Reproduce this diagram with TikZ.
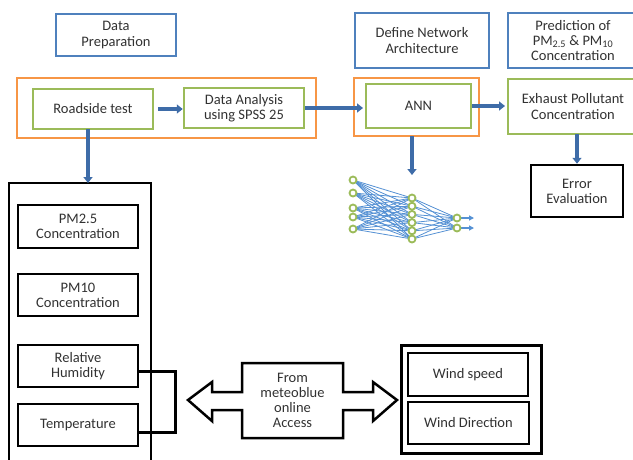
\documentclass[tikz,border=0pt]{standalone}
\usepackage{fontspec}
\setmainfont{Carlito}
\usetikzlibrary{arrows.meta}
\definecolor{bxblue}{RGB}{79,129,189}
\definecolor{bxgreen}{RGB}{155,187,89}
\definecolor{bxorange}{RGB}{247,150,70}
\definecolor{arblue}{RGB}{62,108,168}
\definecolor{nnblue}{RGB}{85,145,212}
\definecolor{txt}{RGB}{50,50,50}
\begin{document}
\begin{tikzpicture}[x=1pt,y=-1pt,
  every node/.style={font=\fontsize{14.5}{15.2}\selectfont, text=txt, align=center, inner sep=0pt},
  bluebox/.style={draw=bxblue, line width=2pt, fill=white},
  greenbox/.style={draw=bxgreen, line width=2.5pt, fill=white},
  orangebox/.style={draw=bxorange, line width=2.5pt},
  blackbox/.style={draw=black, line width=2.5pt, fill=white},
  flow/.style={draw=arblue, line width=3.5pt, -{Triangle[length=6pt,width=9pt]}},
  neuron/.style={circle, draw=bxgreen, line width=1.8pt, fill=white, minimum size=7pt},
  nnedge/.style={draw=nnblue, line width=0.8pt},
]
\useasboundingbox (0,0) rectangle (633,459);
\clip (0,0) rectangle (633,459);
\fill[white] (0,0) rectangle (633,459);

% top blue boxes
\node[bluebox, minimum width=120, minimum height=42] (prep) at (116,35) {Data\\Preparation};
\node[bluebox, minimum width=134, minimum height=55] (define) at (422,40.5) {Define Network\\Architecture};
\node[bluebox, minimum width=130, minimum height=55] (pred) at (573,40.5) {Prediction of\\PM\textsubscript{2.5} \& PM\textsubscript{10}\\Concentration};

% orange containers
\node[orangebox, minimum width=299, minimum height=60] (og1) at (166.5,108) {};
\node[orangebox, minimum width=125, minimum height=58] (og2) at (416.5,107) {};

% green boxes
\node[greenbox, minimum width=120, minimum height=40] (road) at (93,109) {Roadside test};
\node[greenbox, minimum width=120, minimum height=40] (ana) at (244,108) {Data Analysis\\using SPSS 25};
\node[greenbox, minimum width=105, minimum height=44] (ann) at (418.5,106) {ANN};
\node[greenbox, minimum width=130, minimum height=55] (exh) at (573,106.5) {Exhaust Pollutant\\Concentration};

% error evaluation
\node[blackbox, minimum width=92, minimum height=52] (err) at (577,191) {Error\\Evaluation};

% big left box (open at bottom)
\draw[black, line width=2pt] (9,470) -- (9,183) -- (151,183) -- (151,470);
\coordinate (bigtop) at (88,183);

\node[blackbox, minimum width=120, minimum height=43] (pm25) at (78,226.5) {PM2.5\\Concentration};
\node[blackbox, minimum width=120, minimum height=42] (pm10) at (78,295) {PM10\\Concentration};
\node[blackbox, minimum width=120, minimum height=42] (rh) at (78,366) {Relative\\Humidity};
\node[blackbox, minimum width=120, minimum height=42] (temp) at (78,425) {Temperature};

% bracket
\draw[black, line width=3pt, line join=miter] (rh.east |- 0,371) -- (175,371) -- (175,432) -- (temp.east |- 0,432);

% wind boxes
\node[draw=black, line width=3pt, minimum width=140, minimum height=108] (wind) at (471,399) {};
\node[blackbox, minimum width=120, minimum height=43] (ws) at (468,374.5) {Wind speed};
\node[blackbox, minimum width=121, minimum height=42] (wd) at (468.5,423) {Wind Direction};

% double arrow from meteoblue
\draw[black, line width=2.5pt, fill=white, line join=miter]
  (188,400) -- (212,382) -- (212,392) -- (242,392) -- (242,363) -- (343,363) -- (343,392)
  -- (373,392) -- (373,382) -- (397,400) -- (373,421) -- (373,410) -- (343,410) -- (343,438)
  -- (242,438) -- (242,410) -- (212,410) -- (212,421) -- cycle;
\node (access) at (292.5,400.5) {From\\meteoblue\\online\\Access};

% flow arrows
\coordinate (roadbot) at (88,129);
\draw[flow] (158,109) -- (ana.west |- 0,109);
\draw[flow] (ana.east |- 0,108) -- (363,108);
\draw[flow] (ann.east |- 0,106) -- (505,106);
\draw[flow] (roadbot) -- (bigtop);
\coordinate (anndown) at (412,136);
\coordinate (nntop) at (412,175);
\draw[flow] (anndown) -- (nntop);
\coordinate (exhdown) at (577,134);
\draw[flow] (exhdown) -- (err.north);

% neural network
\foreach \i/\y in {1/180,2/193,3/208,4/217,5/229}
  \coordinate (a\i) at (353,\y);
\foreach \j/\y in {1/198,2/206.2,3/214.4,4/222.6,5/230.8,6/239}
  \coordinate (b\j) at (412,\y);
\foreach \k/\y in {1/218,2/228}
  \coordinate (c\k) at (457,\y);
\foreach \i in {1,...,5}
  \foreach \j in {1,...,6}
    \draw[nnedge] (a\i) -- (b\j);
\foreach \j in {1,...,6}
  \foreach \k in {1,2}
    \draw[nnedge] (b\j) -- (c\k);
\foreach \k in {1,2}
  \draw[draw=nnblue, line width=1.3pt, -{Triangle[length=5pt,width=5pt]}] (c\k) -- ++(17,0);
\foreach \i in {1,...,5} \node[neuron] (na\i) at (a\i) {};
\foreach \j in {1,...,6} \node[neuron] (nb\j) at (b\j) {};
\foreach \k in {1,2} \node[neuron] (nc\k) at (c\k) {};
\end{tikzpicture}
\end{document}
